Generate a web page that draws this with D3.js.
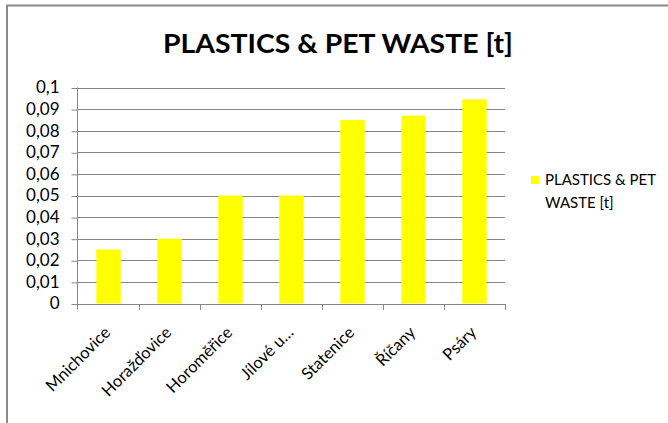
<!DOCTYPE html>
<html>
<head>
<meta charset="utf-8">
<script src="https://cdn.jsdelivr.net/npm/d3@7"></script>
<style>
  html, body { margin: 0; padding: 0; background: #fff; }
  svg { display: block; }
  text { font-family: Lato, "Open Sans", sans-serif; fill: #000; }
</style>
</head>
<body>
<svg id="chart" width="668" height="423"></svg>
<script>
// Municipalities and their plastics & PET waste, in tonnes
const categories = ["Mnichovice", "Horažďovice", "Horoměřice", "Jílové u…", "Statenice", "Říčany", "Psáry"];
const values = [0.025, 0.030, 0.050, 0.050, 0.085, 0.087, 0.0945];
const yTicks = [0, 0.01, 0.02, 0.03, 0.04, 0.05, 0.06, 0.07, 0.08, 0.09, 0.1];
const titleText = "PLASTICS & PET WASTE [t]";
const seriesName = ["PLASTICS & PET", "WASTE [t]"];

const svg = d3.select("#chart");
const W = 668, H = 423;
const plot = { left: 78, right: 505, top: 87.5, bottom: 303.5 };
const gridColor = "#868686";
const barColor = "#ffff00";

// Chart frame (top and left edges)
svg.append("path")
  .attr("d", `M7,${H} V5.5 H${W}`)
  .attr("fill", "none")
  .attr("stroke", "#8a8a8a")
  .attr("stroke-width", 2);

const x = d3.scaleBand().domain(categories).range([plot.left, plot.right]).paddingInner(0.6).paddingOuter(0.3);
const xOuter = d3.scaleBand().domain(categories).range([plot.left, plot.right]);
const y = d3.scaleLinear().domain([0, 0.1]).range([plot.bottom, plot.top]);

// Horizontal gridlines
svg.append("g")
  .selectAll("line")
  .data(yTicks.slice(1))
  .join("line")
  .attr("x1", plot.left).attr("x2", plot.right)
  .attr("y1", d => Math.round(y(d)) + 0.5).attr("y2", d => Math.round(y(d)) + 0.5)
  .attr("stroke", gridColor).attr("stroke-width", 1);

// Bars
svg.append("g")
  .selectAll("rect")
  .data(values)
  .join("rect")
  .attr("x", (d, i) => x(categories[i]))
  .attr("width", x.bandwidth())
  .attr("y", d => y(d))
  .attr("height", d => y(0) - y(d))
  .attr("fill", barColor);

// Y axis
const yAxis = d3.axisLeft(y)
  .tickValues(yTicks)
  .tickSize(6)
  .tickPadding(12)
  .tickFormat(d => d3.format("~g")(d).replace(".", ","));
const gy = svg.append("g")
  .attr("transform", `translate(${plot.left - 0.5},0)`)
  .call(yAxis);
gy.selectAll("line").attr("stroke", gridColor).attr("transform", "translate(0,0.5)");
gy.select(".domain").attr("stroke", gridColor).attr("d", `M0,${plot.top} V${plot.bottom + 6}`);
gy.selectAll("text").style("font-size", "17px").style("font-family", "Lato, sans-serif").attr("fill", "#000");

// X axis
const xAxis = d3.axisBottom(xOuter).tickSize(0).tickFormat("");
const gx = svg.append("g")
  .attr("transform", `translate(0,${Math.round(plot.bottom) + 0.5})`)
  .call(xAxis);
gx.select(".domain").attr("stroke", gridColor).attr("d", `M${plot.left},0 H${plot.right}`);
// Category boundary ticks
svg.append("g")
  .selectAll("line")
  .data(categories)
  .join("line")
  .attr("x1", d => Math.round(xOuter(d) + xOuter.bandwidth()) + 0.5)
  .attr("x2", d => Math.round(xOuter(d) + xOuter.bandwidth()) + 0.5)
  .attr("y1", Math.round(plot.bottom)).attr("y2", Math.round(plot.bottom) + 6)
  .attr("stroke", gridColor);

// Rotated category labels
svg.append("g")
  .selectAll("text")
  .data(categories)
  .join("text")
  .attr("transform", d => `translate(${xOuter(d) + xOuter.bandwidth() / 2 + 3},${plot.bottom + 30}) rotate(-45)`)
  .attr("text-anchor", "end")
  .style("font-size", "16.5px")
  .text(d => d);

// Title
svg.append("text")
  .attr("x", 338).attr("y", 53)
  .attr("text-anchor", "middle")
  .attr("textLength", 350)
  .attr("lengthAdjust", "spacingAndGlyphs")
  .style("font-size", "26px")
  .style("font-weight", "bold")
  .text(titleText);

// Legend
const lg = svg.append("g").attr("transform", "translate(531,176)");
lg.append("rect").attr("width", 8).attr("height", 8).attr("fill", barColor);
lg.selectAll("text")
  .data(seriesName)
  .join("text")
  .attr("x", 14)
  .attr("y", (d, i) => 9 + i * 23)
  .style("font-size", "15px")
  .text(d => d);
</script>
</body>
</html>
